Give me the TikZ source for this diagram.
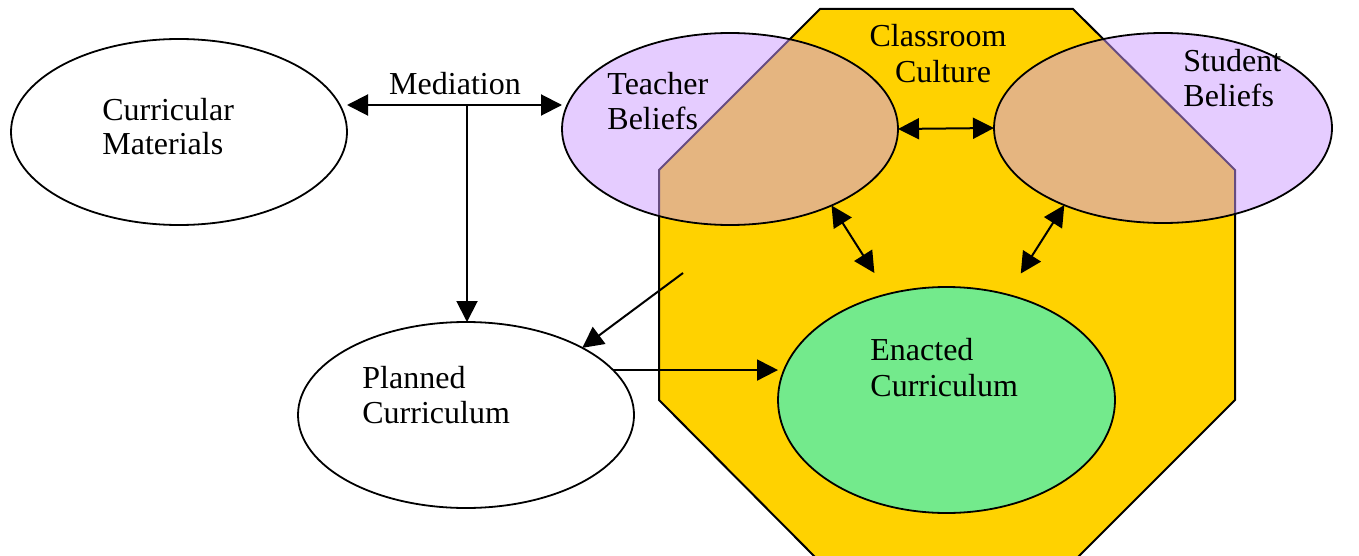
\documentclass[tikz,border=0pt]{standalone}
\usepackage{fontspec}
\setmainfont{Liberation Serif}
\usetikzlibrary{arrows.meta,shapes.geometric,calc}
\definecolor{octyellow}{HTML}{FFD200}
\definecolor{lilac}{HTML}{CC99FF}
\definecolor{aqua}{HTML}{00FFFF}
\begin{document}
\begin{tikzpicture}[x=0.5pt,y=-0.5pt,
  oval/.style={ellipse,draw=black,line width=0.9pt,inner sep=0pt,outer sep=0pt},
  txt/.style={anchor=base west,inner sep=0pt,font=\fontsize{16}{18}\selectfont},
  ctxt/.style={anchor=base,inner sep=0pt,font=\fontsize{16}{18}\selectfont},
  conn/.style={line width=1pt,-{Triangle[length=10.5pt,width=10.5pt]}},
  conn2/.style={line width=1pt,{Triangle[length=10.5pt,width=10.5pt]}-{Triangle[length=10.5pt,width=10.5pt]}}]
\useasboundingbox (0,0) rectangle (1359,556);
% octagon (classroom culture)
\draw[fill=octyellow,line width=1pt,line join=miter]
  (820,9) -- (1073,9) -- (1235,170) -- (1235,400) -- (1073,562) -- (820,562) -- (659,400) -- (659,170) -- cycle;
% ellipses
\node[oval,fill=white,minimum width=168pt,minimum height=93pt] (cm) at (179,132) {};
\node[oval,fill=lilac,fill opacity=0.5,minimum width=168pt,minimum height=96pt] (tb) at (730,129) {};
\node[oval,fill=lilac,fill opacity=0.5,minimum width=169pt,minimum height=95pt] (sb) at (1163,128) {};
\node[oval,fill=aqua,fill opacity=0.55,minimum width=168.5pt,minimum height=113pt] (ec) at (946.5,400) {};
\node[oval,fill=white,minimum width=168pt,minimum height=93pt] (pc) at (466,415) {};
% connectors
\coordinate (m) at (467,105);
\coordinate (fc) at (683,273);
\draw[conn2] (cm.east |- m) -- (tb.west |- m);
\draw[conn] (m) -- (m |- pc.north);
\draw[conn2] (tb.east) -- (sb.west);
\draw[conn2,shorten >=12.5pt] (tb.-37) -- (ec.119);
\draw[conn2,shorten >=12.5pt] (sb.218) -- (ec.60);
\draw[conn] (fc) -- (pc.30);
\draw[conn] (pc.17.5) -- (pc.17.5 -| ec.west);
% texts
\node[txt] (cm1) at (102,120) {Curricular};
\node[txt] (cm2) at (102,155) {Materials};
\node[ctxt] (med) at (455,95) {Mediation};
\node[txt] (tb1) at (607,95) {Teacher};
\node[txt] (tb2) at (607,130) {Beliefs};
\node[ctxt] (cc1) at (938,47) {Classroom};
\node[ctxt] (cc2) at (943,83) {Culture};
\node[txt] (sb1) at (1183,72) {Student};
\node[txt] (sb2) at (1183,107) {Beliefs};
\node[txt] (pc1) at (362,388) {Planned};
\node[txt] (pc2) at (362,423) {Curriculum};
\node[txt] (ec1) at (870,360) {Enacted};
\node[txt] (ec2) at (870,396) {Curriculum};
\end{tikzpicture}
\end{document}
